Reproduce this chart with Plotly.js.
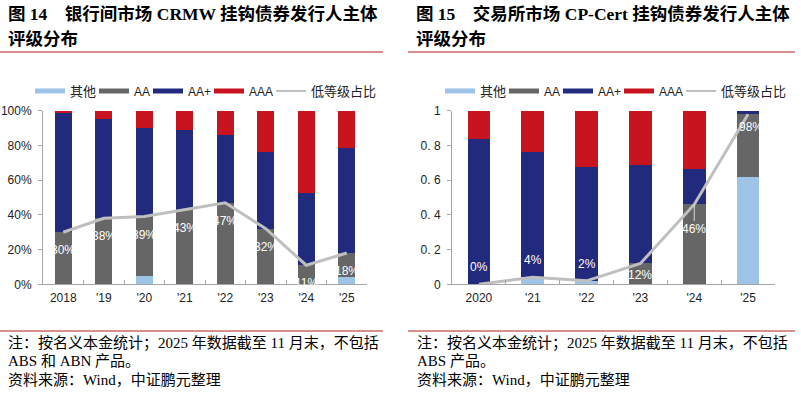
<!DOCTYPE html>
<html>
<head>
<meta charset="utf-8">
<script src="https://cdn.plot.ly/plotly-3.0.1.min.js"></script>
<style>html,body{margin:0;padding:0;background:#fff;}#chart{width:801px;height:398px;}</style>
</head>
<body>
<div id="chart"></div>
<script>
// ---- Left chart: 银行间市场 CRMW ----
const leftYears = ['2018', "'19", "'20", "'21", "'22", "'23", "'24", "'25"];
const leftOther = [0, 0, 0.05, 0, 0, 0, 0, 0.04];
const leftAA    = [0.30, 0.38, 0.34, 0.43, 0.47, 0.32, 0.11, 0.14];
const leftAAp   = [0.685, 0.572, 0.512, 0.46, 0.388, 0.44, 0.414, 0.603];
const leftAAA   = [0.015, 0.048, 0.098, 0.11, 0.142, 0.24, 0.476, 0.217];
const leftLow   = [0.30, 0.38, 0.39, 0.43, 0.47, 0.32, 0.11, 0.18];
const leftLowLabels = ['30%', '38%', '39%', '43%', '47%', '32%', '11%', '18%'];

// ---- Right chart: 交易所市场 CP-Cert ----
const rightYears = ['2020', "'21", "'22", "'23", "'24", "'25"];
const rightOther = [0, 0.04, 0.02, 0, 0, 0.62];
const rightAA    = [0, 0, 0, 0.12, 0.46, 0.36];
const rightAAp   = [0.835, 0.72, 0.658, 0.57, 0.203, 0.02];
const rightAAA   = [0.165, 0.24, 0.322, 0.31, 0.337, 0];
const rightLow   = [0, 0.04, 0.02, 0.12, 0.46, 0.98];
const rightLowLabels = ['0%', '4%', '2%', '12%', '46%', '98%'];

const seriesNames = ['其他', 'AA', 'AA+', 'AAA'];
const lineName = '低等级占比';
const leftYTicks = ['0%', '20%', '40%', '60%', '80%', '100%'];
const rightYTicks = ['0', '0. 2', '0. 4', '0. 6', '0. 8', '1'];
const yTickVals = [0, 0.2, 0.4, 0.6, 0.8, 1];

// styles / layout positions (pixels)
const colors = ['#9DC3E6', '#666666', '#222A7E', '#C8141E'];
const lineColor = '#BFBFBF';
const rightLabelShift = [17, 17, 17, -12, 0, -13];
const leftLabelShift = -18;
const leftLegendX = [30, 94, 148, 209, 271];
const rightLegendX = [440, 504, 558, 619, 681];
const legendFontSizes = [13, 12, 12, 12, 13];
const leftLegendIds = ['legend', 'legend2', 'legend3', 'legend4', 'legend5'];
const rightLegendIds = ['legend6', 'legend7', 'legend8', 'legend9', 'legend10'];

const traces = [];
function addChart(xs, series, low, xa, ya, legendIds) {
  series.forEach((vals, i) => {
    traces.push({
      type: 'bar', x: xs, y: vals, xaxis: xa, yaxis: ya,
      marker: {color: colors[i], line: {width: 0}},
      showlegend: false, hoverinfo: 'skip'
    });
  });
  traces.push({
    type: 'scatter', mode: 'lines', x: xs, y: low, xaxis: xa, yaxis: ya,
    line: {color: lineColor, width: 3}, showlegend: false, hoverinfo: 'skip'
  });
  // legend entries (legend-only swatches)
  seriesNames.forEach((n, i) => {
    traces.push({
      type: 'scatter', mode: 'lines', x: [null], y: [null], xaxis: xa, yaxis: ya,
      name: n, legend: legendIds[i], line: {color: colors[i], width: 5}
    });
  });
  traces.push({
    type: 'scatter', mode: 'lines', x: [null], y: [null], xaxis: xa, yaxis: ya,
    name: lineName, legend: legendIds[4], line: {color: lineColor, width: 2}
  });
}
addChart(leftYears, [leftOther, leftAA, leftAAp, leftAAA], leftLow, 'x', 'y', leftLegendIds);
addChart(rightYears, [rightOther, rightAA, rightAAp, rightAAA], rightLow, 'x2', 'y2', rightLegendIds);

const W = 801, H = 398;
const px = v => v / W;
const py = v => (H - v) / H;

const titleFont = {family: 'Liberation Serif, Noto Sans CJK SC', size: 17.5, color: '#000'};
const noteFont = {family: 'Liberation Serif, Noto Sans CJK SC', size: 15, color: '#000'};
const labelFont = {family: 'Liberation Sans, Arial, sans-serif', size: 12, color: '#ffffff'};

const annotations = [];
function txt(x, y, text, font) {
  annotations.push({xref: 'paper', yref: 'paper', x: px(x), y: py(y), text: text,
    showarrow: false, xanchor: 'left', yanchor: 'middle', font: font});
}
txt(6, 14, '<b>图 14\u00a0\u00a0\u00a0\u00a0银行间市场 CRMW 挂钩债券发行人主体</b>', titleFont);
txt(6, 39, '<b>评级分布</b>', titleFont);
txt(414, 14, '<b>图 15\u00a0\u00a0\u00a0\u00a0交易所市场 CP-Cert 挂钩债券发行人主体</b>', titleFont);
txt(414, 39, '<b>评级分布</b>', titleFont);
txt(6, 343, '注：按名义本金统计；2025 年数据截至 11 月末，不包括', noteFont);
txt(6, 361, 'ABS 和 ABN 产品。', noteFont);
txt(6, 380, '资料来源：Wind，中证鹏元整理', noteFont);
txt(415, 343, '注：按名义本金统计；2025 年数据截至 11 月末，不包括', noteFont);
txt(415, 361, 'ABS 产品。', noteFont);
txt(415, 380, '资料来源：Wind，中证鹏元整理', noteFont);

leftYears.forEach((c, i) => {
  annotations.push({xref: 'x', yref: 'y', x: i, y: leftLow[i], text: leftLowLabels[i],
    showarrow: false, yshift: leftLabelShift, font: labelFont});
});
rightYears.forEach((c, i) => {
  const a = {xref: 'x2', yref: 'y2', x: i, y: rightLow[i], text: rightLowLabels[i],
    showarrow: false, yshift: rightLabelShift[i], font: labelFont};
  if (i === 5) a.xshift = 3;
  if (i === 4) {
    Object.assign(a, {showarrow: true, ax: 0, ay: 25, arrowhead: 0, arrowwidth: 1,
      arrowcolor: '#D9D9D9', standoff: 0});
  }
  annotations.push(a);
});

const shapes = [
  {type: 'line', xref: 'paper', yref: 'paper', x0: 0, x1: px(383), y0: py(52), y1: py(52), line: {color: '#B01E1E', width: 1}},
  {type: 'line', xref: 'paper', yref: 'paper', x0: px(408), x1: px(795), y0: py(52), y1: py(52), line: {color: '#B01E1E', width: 1}},
  {type: 'line', xref: 'paper', yref: 'paper', x0: 0, x1: px(383), y0: py(331), y1: py(331), line: {color: '#B01E1E', width: 1}},
  {type: 'line', xref: 'paper', yref: 'paper', x0: px(408), x1: px(795), y0: py(331), y1: py(331), line: {color: '#B01E1E', width: 1}}
];

const tickFont = {family: 'Liberation Sans, Arial, sans-serif', size: 12, color: '#222'};
function xAxis(domain, anchor, n) {
  return {domain: domain, anchor: anchor, type: 'category', range: [-0.5, n - 0.5], autorange: false,
    showline: true, linecolor: '#A6A6A6', linewidth: 1, tickangle: 0,
    ticks: 'inside', tickson: 'boundaries', ticklen: 4, tickcolor: '#A6A6A6', showgrid: false,
    tickfont: tickFont, fixedrange: true, zeroline: false, ticklabelstandoff: 2};
}
function yAxis(domain, anchor, ticktext) {
  return {domain: domain, anchor: anchor, range: [0, 1], autorange: false, tickvals: yTickVals, ticktext: ticktext,
    showline: true, linecolor: '#A6A6A6', ticks: 'outside', ticklen: 4, tickcolor: '#A6A6A6',
    showgrid: false, zeroline: false, tickfont: tickFont, fixedrange: true, ticklabelstandoff: 4};
}
const yDom = [py(284.3), py(110.7)];

const layout = {
  width: W, height: H, margin: {l: 0, r: 0, t: 0, b: 0},
  paper_bgcolor: '#fff', plot_bgcolor: '#fff',
  barmode: 'stack', bargap: 0.58,
  xaxis: xAxis([px(43), px(367)], 'y', leftYears.length),
  yaxis: yAxis(yDom, 'x', leftYTicks),
  xaxis2: xAxis([px(452), px(775)], 'y2', rightYears.length),
  yaxis2: yAxis(yDom, 'x2', rightYTicks),
  annotations: annotations, shapes: shapes, showlegend: true
};
function legendCfg(xPix, size) {
  return {orientation: 'h', x: px(xPix), y: py(91), xanchor: 'left', yanchor: 'middle',
    font: {family: 'Liberation Sans, Noto Sans CJK SC', size: size, color: '#222'},
    bgcolor: 'rgba(0,0,0,0)', itemwidth: 30};
}
leftLegendIds.forEach((id, i) => { layout[id] = legendCfg(leftLegendX[i], legendFontSizes[i]); });
rightLegendIds.forEach((id, i) => { layout[id] = legendCfg(rightLegendX[i], legendFontSizes[i]); });

Plotly.newPlot('chart', traces, layout, {staticPlot: true, displayModeBar: false});
</script>
</body>
</html>
